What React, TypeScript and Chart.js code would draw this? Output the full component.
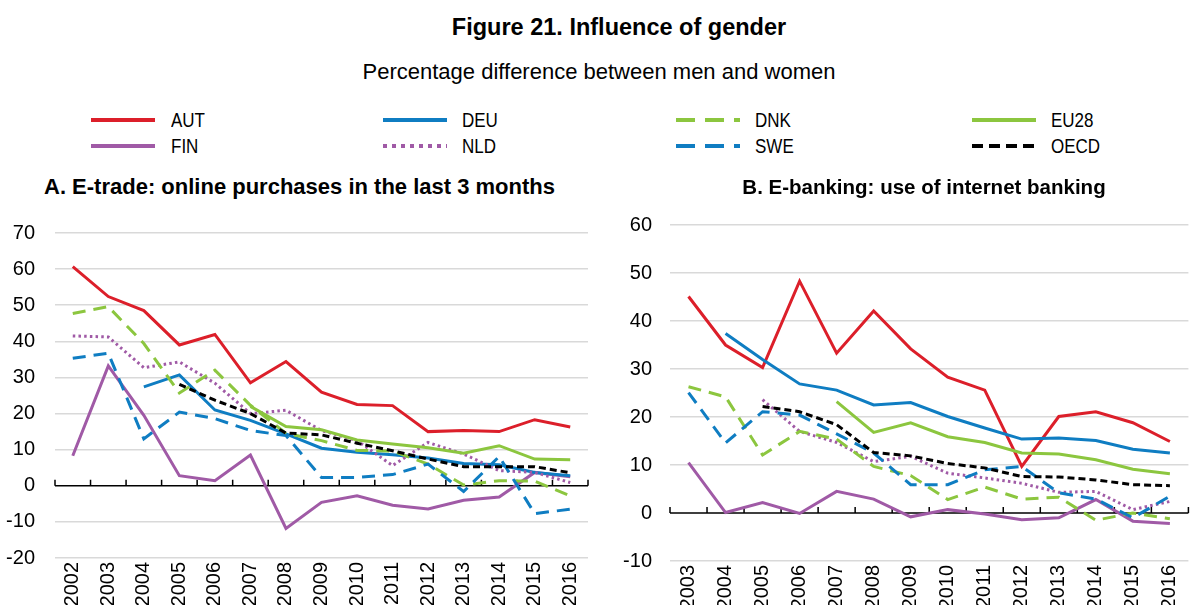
import React, { useEffect, useRef } from "react";
import { Chart, registerables } from "chart.js";

Chart.register(...registerables);

// ---------- data ----------
const YEARS_A = ["2002","2003","2004","2005","2006","2007","2008","2009","2010","2011","2012","2013","2014","2015","2016"];
const YEARS_B = ["2003","2004","2005","2006","2007","2008","2009","2010","2011","2012","2013","2014","2015","2016"];

const AUT_A = [60.7, 52.4, 48.5, 39.0, 41.9, 28.5, 34.4, 25.9, 22.5, 22.2, 15.0, 15.3, 15.0, 18.3, 16.3];
const DEU_A = [null, null, 27.4, 30.7, 21.0, 18.1, 14.4, 10.4, 9.3, 8.6, 7.7, 6.2, 5.8, 3.7, 2.8];
const DNK_A = [47.7, 49.6, 39.4, 25.7, 32.0, 22.3, 14.5, 12.5, 9.8, 9.6, 6.0, 0.2, 1.4, 1.3, -2.8];
const EU28_A = [null, null, null, null, null, 22.0, 16.4, 15.5, 12.7, 11.6, 10.5, 9.0, 11.1, 7.4, 7.2];
const FIN_A = [8.3, 33.2, 19.5, 2.8, 1.4, 8.5, -11.8, -4.6, -2.8, -5.4, -6.4, -4.0, -3.1, 3.7, 2.5];
const NLD_A = [41.5, 41.2, 32.7, 34.3, 28.4, 20.0, 20.9, 15.3, 12.5, 5.6, 12.0, 8.8, 4.2, 3.7, 0.9];
const SWE_A = [35.3, 36.7, 13.0, 20.4, 18.6, 15.3, 13.9, 2.3, 2.3, 3.1, 6.0, -1.6, 8.1, -7.7, -6.5];
const OECD_A = [null, null, null, 28.1, 23.7, 20.0, 14.6, 14.1, 11.8, 9.7, 7.4, 5.3, 5.3, 5.3, 3.6];

const AUT_B = [45.1, 35.0, 30.3, 48.3, 33.3, 42.1, 34.2, 28.3, 25.6, 9.7, 20.1, 21.1, 18.8, 14.9];
const DEU_B = [null, 37.4, 32.0, 26.9, 25.6, 22.5, 23.0, 20.1, 17.7, 15.4, 15.6, 15.1, 13.3, 12.5];
const DNK_B = [26.3, 24.2, 12.1, 17.0, 15.4, 9.7, 7.8, 2.8, 5.4, 2.9, 3.3, -1.5, 0.0, -1.2];
const EU28_B = [null, null, null, null, 23.2, 16.8, 18.8, 15.9, 14.7, 12.5, 12.3, 11.1, 9.1, 8.2];
const FIN_B = [10.5, 0.1, 2.2, -0.1, 4.5, 2.9, -0.8, 0.7, -0.2, -1.4, -1.0, 2.8, -1.7, -2.2];
const NLD_B = [null, null, 23.6, 17.0, 14.7, 10.7, 11.8, 8.3, 7.3, 6.2, 4.3, 4.5, 0.7, 2.4];
const SWE_B = [25.1, 14.6, 21.1, 20.4, 16.5, 12.5, 5.9, 5.9, 9.0, 9.7, 4.2, 2.9, -1.0, 3.5];
const OECD_B = [null, null, 22.2, 21.1, 18.4, 12.6, 11.9, 10.3, 9.4, 7.6, 7.5, 6.9, 5.9, 5.7];

const Y_TICKS_A = { min: -20, max: 70, step: 10 };
const Y_TICKS_B = { min: -10, max: 60, step: 10 };

// ---------- styles ----------
const RED = "#DC1F2A";
const BLUE = "#0F7DC2";
const GREEN = "#8CC63F";
const PURPLE = "#A05AA6";
const BLACK = "#000000";

const NARROW = "'Liberation Sans Narrow', 'Arial Narrow', 'Liberation Sans', Arial, sans-serif";
const SANS = "'Liberation Sans', Arial, sans-serif";

type SeriesStyle = { label: string; color: string; dash: number[]; legendDash: string; width: number };
const STYLES: Record<string, SeriesStyle> = {
  AUT: { label: "AUT", color: RED, dash: [], legendDash: "", width: 3 },
  FIN: { label: "FIN", color: PURPLE, dash: [], legendDash: "", width: 3 },
  DEU: { label: "DEU", color: BLUE, dash: [], legendDash: "", width: 3 },
  NLD: { label: "NLD", color: PURPLE, dash: [2.5, 3.2], legendDash: "4 5", width: 3 },
  DNK: { label: "DNK", color: GREEN, dash: [13, 8], legendDash: "19 10", width: 3 },
  SWE: { label: "SWE", color: BLUE, dash: [13, 8], legendDash: "19 10", width: 3 },
  EU28: { label: "EU28", color: GREEN, dash: [], legendDash: "", width: 3 },
  OECD: { label: "OECD", color: BLACK, dash: [7, 4], legendDash: "11 6", width: 3 },
};

const zeroLinePlugin = {
  id: "zeroLine",
  beforeDatasetsDraw(chart: any) {
    const { ctx, chartArea, scales } = chart;
    const y0 = scales.y.getPixelForValue(0);
    const n = chart.data.labels.length;
    ctx.save();
    ctx.strokeStyle = "#000";
    ctx.lineWidth = 1.5;
    ctx.beginPath();
    ctx.moveTo(chartArea.left, y0);
    ctx.lineTo(chartArea.right, y0);
    for (let i = 0; i <= n; i++) {
      const x = chartArea.left + (i * (chartArea.right - chartArea.left)) / n;
      ctx.moveTo(x, y0);
      ctx.lineTo(x, y0 - 6);
    }
    ctx.stroke();
    ctx.restore();
  },
};

function makeDataset(key: string, data: (number | null)[]) {
  const s = STYLES[key];
  return {
    label: s.label,
    data,
    borderColor: s.color,
    backgroundColor: s.color,
    borderWidth: s.width,
    borderDash: s.dash,
    pointRadius: 0,
    tension: 0,
    fill: false,
    spanGaps: false,
    borderCapStyle: "butt" as const,
    borderJoinStyle: "miter" as const,
  };
}

function PanelChart(props: {
  labels: string[];
  series: Record<string, (number | null)[]>;
  yr: { min: number; max: number; step: number };
  left: number; top: number; width: number; height: number;
  yWidth: number; xHeight: number; padRight: number; yPad: number;
}) {
  const ref = useRef<HTMLCanvasElement>(null);
  useEffect(() => {
    if (!ref.current) return;
    const order = ["OECD", "EU28", "SWE", "DNK", "NLD", "DEU", "FIN", "AUT"];
    const chart = new Chart(ref.current, {
      type: "line",
      data: {
        labels: props.labels,
        datasets: order.map((k) => makeDataset(k, props.series[k])),
      },
      options: {
        animation: false,
        responsive: false,
        maintainAspectRatio: false,
        layout: { padding: { top: 0, right: props.padRight, left: 0, bottom: 0 } },
        plugins: { legend: { display: false }, tooltip: { enabled: false }, title: { display: false } },
        scales: {
          x: {
            type: "category",
            offset: true,
            grid: { display: false, drawTicks: false },
            border: { display: false },
            ticks: {
              minRotation: 90, maxRotation: 90, autoSkip: false,
              color: "#000", padding: 4,
              font: { family: NARROW, size: 20 },
            },
            afterFit: (s: any) => { s.height = props.xHeight; },
          },
          y: {
            min: props.yr.min, max: props.yr.max,
            grid: {
              color: (c: any) => (c.tick && c.tick.value === 0 ? "rgba(0,0,0,0)" : "#D9D9D9"),
              lineWidth: 1.5, drawTicks: false,
            },
            border: { display: false },
            ticks: {
              stepSize: props.yr.step, color: "#000", padding: props.yPad,
              font: { family: NARROW, size: 20 },
            },
            afterFit: (s: any) => { s.width = props.yWidth; },
          },
        },
      },
      plugins: [zeroLinePlugin],
    } as any);
    return () => chart.destroy();
  }, []);
  return (
    <canvas
      ref={ref}
      width={props.width}
      height={props.height}
      style={{ position: "absolute", left: props.left, top: props.top, width: props.width, height: props.height }}
    />
  );
}

function LegendItem(props: { k: string; x: number; y: number; textX: number }) {
  const s = STYLES[props.k];
  return (
    <>
      <svg style={{ position: "absolute", left: props.x, top: props.y - 4 }} width={66} height={8}>
        <line x1={0} y1={4} x2={64} y2={4} stroke={s.color} strokeWidth={4}
          strokeDasharray={s.legendDash || undefined} />
      </svg>
      <div style={{ position: "absolute", left: props.textX, top: props.y - 12, fontFamily: SANS, fontSize: 20, lineHeight: "24px", color: "#000", transform: "scaleX(0.85)", transformOrigin: "left center", whiteSpace: "nowrap" }}>
        {s.label}
      </div>
    </>
  );
}

export default function App() {
  const seriesA = { AUT: AUT_A, DEU: DEU_A, DNK: DNK_A, EU28: EU28_A, FIN: FIN_A, NLD: NLD_A, SWE: SWE_A, OECD: OECD_A };
  const seriesB = { AUT: AUT_B, DEU: DEU_B, DNK: DNK_B, EU28: EU28_B, FIN: FIN_B, NLD: NLD_B, SWE: SWE_B, OECD: OECD_B };
  const cols = [
    { x: 91, tx: 171, keys: ["AUT", "FIN"] },
    { x: 383, tx: 462, keys: ["DEU", "NLD"] },
    { x: 676, tx: 755, keys: ["DNK", "SWE"] },
    { x: 972, tx: 1051, keys: ["EU28", "OECD"] },
  ];
  return (
    <div style={{ position: "absolute", left: 0, top: 0, width: 1198, height: 605, overflow: "hidden", background: "#fff" }}>
      <PanelChart labels={YEARS_A} series={seriesA} yr={Y_TICKS_A}
        left={0} top={200.7} width={600} height={404.3}
        yWidth={55} xHeight={47} padRight={12} yPad={20} />
      <PanelChart labels={YEARS_B} series={seriesB} yr={Y_TICKS_B}
        left={600} top={195} width={598} height={410}
        yWidth={70} xHeight={44} padRight={3} yPad={18} />
      <div style={{ position: "absolute", left: 20, width: 1198, top: 13, textAlign: "center", fontFamily: SANS, fontWeight: "bold", fontSize: 23.5, lineHeight: "28px" }}>
        Figure 21. Influence of gender
      </div>
      <div style={{ position: "absolute", left: 0, width: 1198, top: 58, textAlign: "center", fontFamily: SANS, fontSize: 22, lineHeight: "28px" }}>
        Percentage difference between men and women
      </div>
      {cols.map((c) =>
        c.keys.map((k, i) => <LegendItem key={k} k={k} x={c.x} y={120 + i * 26} textX={c.tx} />)
      )}
      <div style={{ position: "absolute", left: 0, width: 599, top: 175, textAlign: "center", fontFamily: SANS, fontWeight: "bold", fontSize: 22, lineHeight: "24px" }}>
        A. E-trade: online purchases in the last 3 months
      </div>
      <div style={{ position: "absolute", left: 624, width: 600, top: 175, textAlign: "center", fontFamily: SANS, fontWeight: "bold", fontSize: 20.5, lineHeight: "24px" }}>
        B. E-banking: use of internet banking
      </div>
    </div>
  );
}
